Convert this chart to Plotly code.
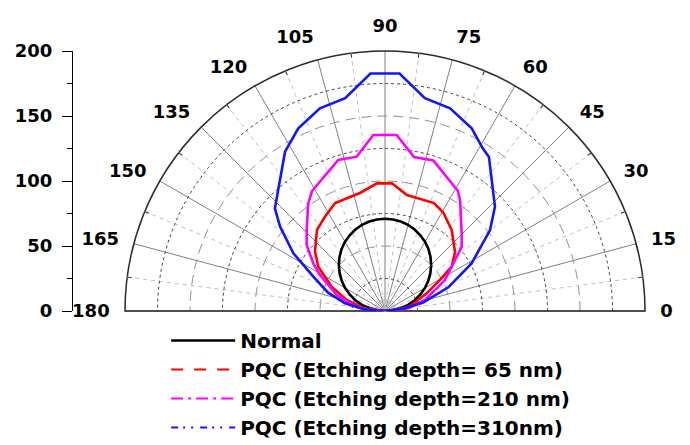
import plotly.graph_objects as go

# ---------------- data ----------------
normal_theta = [0, 5, 10, 15, 20, 25, 30, 35, 40, 45, 50, 55, 60, 65, 70, 75, 80, 85, 90,
                95, 100, 105, 110, 115, 120, 125, 130, 135, 140, 145, 150, 155, 160, 165, 170, 175, 180]
normal_r = [0, 6.2, 12.3, 18.4, 24.3, 30.0, 35.5, 40.7, 45.6, 50.2, 54.4, 58.2, 61.5, 64.3, 66.7, 68.6, 69.9, 70.7, 71.0,
            70.7, 69.9, 68.6, 66.7, 64.3, 61.5, 58.2, 54.4, 50.2, 45.6, 40.7, 35.5, 30.0, 24.3, 18.4, 12.3, 6.2, 0]

pqc65_theta = [0, 7, 12.7, 23, 29.4, 33.6, 40.1, 50.5, 59.4, 65.6, 79.3, 86.9, 93.6, 102, 114.8,
               122.5, 130, 139.7, 146.4, 155.5, 164, 172.9, 180]
pqc65_r = [0, 15, 21, 34.8, 48.6, 61.6, 70.4, 80.7, 88, 91.2, 90.8, 98.4, 98.4, 92.8, 91.5,
           86, 81.4, 70.6, 61.6, 45.1, 30.7, 16.8, 0]

pqc210_theta = [0, 7, 15.4, 27.3, 37.1, 40, 45.4, 55.9, 58.7, 72.2, 79.3, 86.2, 93.8, 100.4, 107.2,
                121.3, 125.5, 134, 139.9, 146.4, 151, 161.7, 172, 176, 180]
pqc210_r = [0, 18, 31.9, 51.9, 69.2, 77, 84, 103, 108, 121.7, 120.5, 135.7, 135.7, 120.7, 121.6,
            108, 101.7, 86.7, 78.8, 66.2, 57.2, 39.1, 22, 12, 0]

pqc310_theta = [0, 7.7, 12.5, 20.5, 28.8, 37.6, 43.5, 56, 59, 64.6, 72.2, 79.4, 86.5, 93.5, 100.6,
                107.8, 115.4, 122.1, 137.0, 141.2, 147.8, 154.4, 162.2, 169, 176, 180]
pqc310_r = [0, 15.5, 30, 52, 76, 102, 116.6, 143, 146, 155.5, 163.8, 166.5, 183, 183, 166.5,
            163.8, 155.5, 144.7, 115.8, 103.6, 83.3, 61.1, 46, 31.3, 15, 0]

series_names = ["Normal", "PQC (Etching depth= 65 nm)", "PQC (Etching depth=210 nm)", "PQC (Etching depth=310nm)"]
series_colors = ["#000000", "#ff0000", "#ff00ff", "#1414ff"]
legend_dashes = ["solid", "12px,11px", "12px,5px,3px,5px", "7px,5px,2px,6px,2px,7px"]

angle_ticks = [0, 15, 30, 45, 60, 75, 90, 105, 120, 135, 150, 165, 180]
angle_minor = [7.5, 22.5, 37.5, 52.5, 67.5, 82.5, 97.5, 112.5, 127.5, 142.5, 157.5, 172.5]
radial_major = [50, 100, 150]
radial_minor = [25, 75, 125, 175]
left_ticks = [0, 50, 100, 150, 200]

# ---------------- figure ----------------
W, H = 690, 445
OFF = 8  # page body margin
cx, cy, R = 385 - OFF, 311 - OFF, 260
dom_x = [(cx - R) / W, (cx + R) / W]
dom_y = [1 - cy / H, 1 - (cy - R) / H]

FONT = "DejaVu Sans, Verdana, sans-serif"
fig = go.Figure()

# dummy trace so that the base polar subplot (grid + labels) is drawn
fig.add_trace(go.Scatterpolar(r=[None], theta=[None], subplot="polar", showlegend=False, hoverinfo="skip"))

data = [(normal_theta, normal_r), (pqc65_theta, pqc65_r), (pqc210_theta, pqc210_r), (pqc310_theta, pqc310_r)]
for (th, rr), nm, col in zip(data, series_names, series_colors):
    fig.add_trace(go.Scatterpolar(r=rr, theta=th, mode="lines", subplot="polar2",
                                  line=dict(color=col, width=2.6), showlegend=False, hoverinfo="skip"))

# legend-only entries (legend shows dashed styles)
for i, (nm, col, ds) in enumerate(zip(series_names, series_colors, legend_dashes)):
    fig.add_trace(go.Scatterpolar(r=[None], theta=[None], mode="lines", subplot="polar2", name=nm,
                                  legendgroup=f"g{i}",
                                  line=dict(color=col, width=2 if i else 2.5, dash=ds)))

# dummy cartesian trace for the left radial scale
fig.add_trace(go.Scatter(x=[None], y=[None], xaxis="x", yaxis="y", showlegend=False, hoverinfo="skip"))

common_radial = dict(range=[0, 200], showline=False, showticklabels=False, ticks="", layer="below traces")
tick_font = dict(family=FONT, size=18, color="black", weight="bold")

fig.update_layout(
    width=W, height=H,
    margin=dict(l=0, r=0, t=0, b=0, autoexpand=False),
    paper_bgcolor="white", plot_bgcolor="rgba(0,0,0,0)",
    polar=dict(
        domain=dict(x=dom_x, y=dom_y),
        sector=[0, 180],
        bgcolor="white",
        radialaxis=dict(**common_radial, tickvals=radial_major, showgrid=True,
                        gridcolor="#8f8f8f", griddash="10px,6px", gridwidth=1),
        angularaxis=dict(direction="counterclockwise", rotation=0, tickvals=angle_ticks,
                         ticktext=[str(a) for a in angle_ticks],
                         showline=True, linecolor="#2a2a2a", linewidth=1.5,
                         showgrid=True, gridcolor="#808080", gridwidth=1,
                         ticks="outside", ticklen=11, tickcolor="rgba(0,0,0,0)",
                         tickfont=tick_font),
    ),
    polar2=dict(
        domain=dict(x=dom_x, y=dom_y),
        sector=[0, 180],
        bgcolor="rgba(0,0,0,0)",
        radialaxis=dict(**common_radial, tickvals=radial_minor, showgrid=True,
                        gridcolor="#404040", griddash="3px,3px", gridwidth=1),
        angularaxis=dict(direction="counterclockwise", rotation=0, tickvals=angle_minor,
                         showticklabels=False, showline=False,
                         showgrid=True, gridcolor="#c0c0c0", griddash="4px,4px", gridwidth=1,
                         ticks="inside", ticklen=4, tickcolor="#333333"),
    ),
    xaxis=dict(visible=False, domain=[0.0, 0.05], range=[0, 1]),
    yaxis=dict(domain=dom_y, range=[0, 200], anchor="free", position=(72 - OFF) / W, side="left",
               tickvals=left_ticks, ticks="outside", ticklen=10, tickwidth=1.2, tickcolor="black",
               showline=True, linecolor="black", linewidth=1.2, showgrid=False, zeroline=False,
               minor=dict(dtick=25, ticks="outside", ticklen=5, tickcolor="black"),
               ticklabelstandoff=6,
               tickfont=tick_font),
    legend=dict(x=0.235 - 4 / W, y=1 - 313 / H, xanchor="left", yanchor="top",
                font=dict(family=FONT, size=20, color="black", weight="bold"),
                itemwidth=64, tracegroupgap=0, bgcolor="rgba(0,0,0,0)"),
    showlegend=True,
)

fig.write_html("out.html")
